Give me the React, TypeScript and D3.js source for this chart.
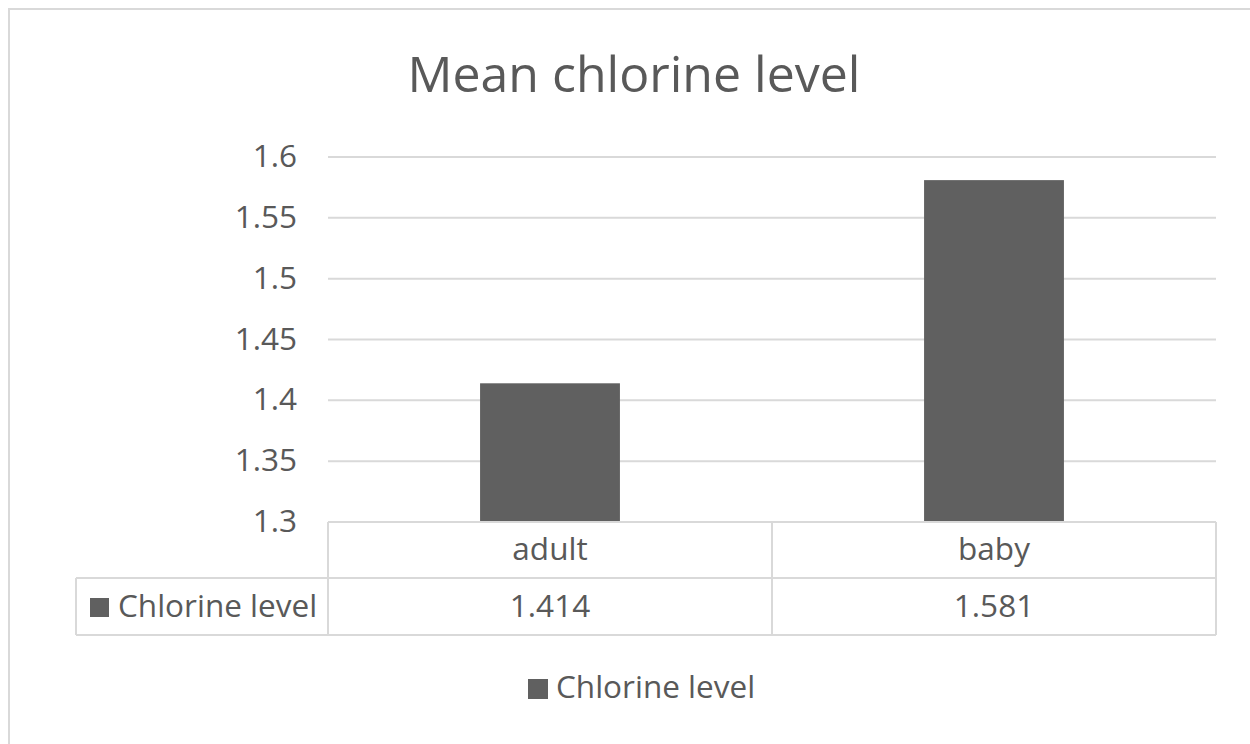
import React from "react";
import * as d3 from "d3";

const title = "Mean chlorine level";
const seriesName = "Chlorine level";
const categories = ["adult", "baby"];
const values = [1.414, 1.581];
const valueLabels = ["1.414", "1.581"];
const yTicks = [1.3, 1.35, 1.4, 1.45, 1.5, 1.55, 1.6];

const W = 1250;
const H = 744;
const FONT = "'Open Sans', 'DejaVu Sans', sans-serif";
const TEXT = "#595959";
const GRID = "#d9d9d9";
const BAR = "#606060";
const FS = 31.5;

export default function App() {
  const plotLeft = 328;
  const plotRight = 1216;
  const plotTop = 157;
  const plotBottom = 522;
  const row1Bottom = 578;
  const row2Bottom = 635;
  const tableLeft = 76;

  const x = d3.scaleBand<string>().domain(categories).range([plotLeft, plotRight]).padding(0);
  const y = d3.scaleLinear().domain([1.3, 1.6]).range([plotBottom, plotTop]);
  const barW = x.bandwidth() * 0.315;

  return (
    <svg
      width={W}
      height={H}
      style={{ position: "absolute", left: 0, top: 0, background: "#fff" }}
      fontFamily={FONT}
    >
      <rect x={0} y={0} width={W} height={H} fill="#fff" />
      <rect x={9} y={9} width={W + 20} height={H + 20} fill="none" stroke={GRID} strokeWidth={2} />

      <text x={634} y={92} textAnchor="middle" fontSize={50} fill={TEXT}>
        {title}
      </text>

      {yTicks.map((t) => (
        <g key={t}>
          {t !== 1.3 && (
            <line x1={plotLeft} x2={plotRight} y1={y(t)} y2={y(t)} stroke={GRID} strokeWidth={2} />
          )}
          <text x={297} y={y(t) + 10} textAnchor="end" fontSize={FS} fill={TEXT}>
            {d3.format("")(+t.toFixed(2))}
          </text>
        </g>
      ))}

      {categories.map((c, i) => (
        <rect
          key={c}
          x={(x(c) as number) + x.bandwidth() / 2 - barW / 2}
          y={y(values[i])}
          width={barW}
          height={y(1.3) - y(values[i])}
          fill={BAR}
        />
      ))}

      {/* data table */}
      <g stroke={GRID} strokeWidth={2} fill="none">
        <line x1={plotLeft} x2={plotRight} y1={plotBottom} y2={plotBottom} />
        <line x1={tableLeft} x2={plotRight} y1={row1Bottom} y2={row1Bottom} />
        <line x1={tableLeft} x2={plotRight} y1={row2Bottom} y2={row2Bottom} />
        <line x1={tableLeft} x2={tableLeft} y1={row1Bottom} y2={row2Bottom} />
        <line x1={plotLeft} x2={plotLeft} y1={plotBottom} y2={row2Bottom} />
        {categories.map((c) => (
          <line
            key={c}
            x1={(x(c) as number) + x.bandwidth()}
            x2={(x(c) as number) + x.bandwidth()}
            y1={plotBottom}
            y2={row2Bottom}
          />
        ))}
      </g>
      {categories.map((c, i) => (
        <g key={c}>
          <text x={(x(c) as number) + x.bandwidth() / 2} y={560} textAnchor="middle" fontSize={FS} fill={TEXT}>
            {c}
          </text>
          <text x={(x(c) as number) + x.bandwidth() / 2} y={617} textAnchor="middle" fontSize={FS} fill={TEXT}>
            {valueLabels[i]}
          </text>
        </g>
      ))}
      <rect x={90} y={598} width={19} height={19} fill={BAR} />
      <text x={118} y={617} fontSize={FS} fill={TEXT}>
        {seriesName}
      </text>

      {/* legend */}
      <rect x={528} y={679} width={20} height={20} fill={BAR} />
      <text x={556} y={698} fontSize={FS} fill={TEXT}>
        {seriesName}
      </text>
    </svg>
  );
}
